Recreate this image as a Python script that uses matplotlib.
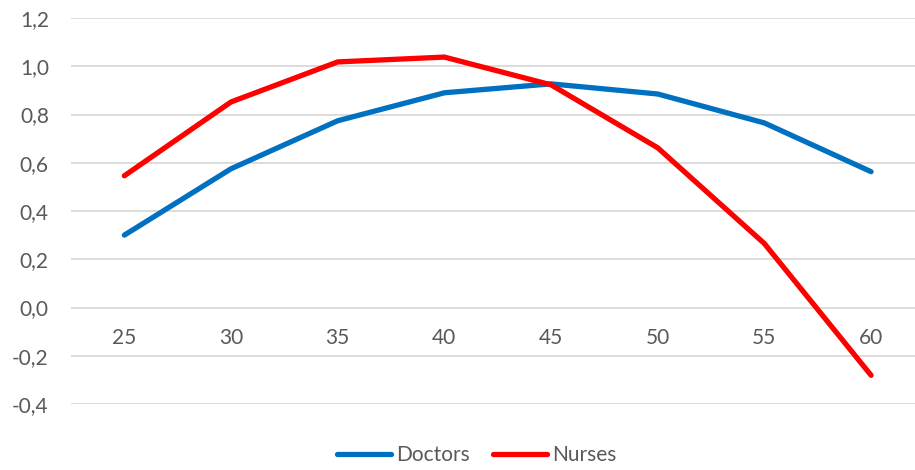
import matplotlib
matplotlib.use("Agg")
import matplotlib.pyplot as plt

ages = ["25", "30", "35", "40", "45", "50", "55", "60"]
doctors = [0.30, 0.575, 0.774, 0.89, 0.927, 0.885, 0.765, 0.563]
nurses = [0.546, 0.852, 1.018, 1.038, 0.923, 0.662, 0.265, -0.281]
yticks = [-0.4, -0.2, 0.0, 0.2, 0.4, 0.6, 0.8, 1.0, 1.2]

plt.rcParams['font.family'] = ['Lato', 'DejaVu Sans']
txt = '#595959'
grid = '#D9D9D9'
fs = 15

fig = plt.figure(figsize=(9.15, 4.7), dpi=100)
ax = fig.add_axes([71/915, 1-404/470, (924.4-71)/915, (404-18)/470])
x = list(range(len(ages)))
ax.plot(x, doctors, color='#0070C0', lw=3.8, solid_capstyle='round', label='Doctors', zorder=3)
ax.plot(x, nurses, color='#FF0000', lw=3.8, solid_capstyle='round', label='Nurses', zorder=3)

ax.set_xlim(-0.5, len(ages) - 0.5)
ax.set_ylim(-0.4, 1.2)
ax.set_yticks(yticks)
ax.set_yticklabels([f"{v:.1f}".replace('.', ',') for v in yticks], color=txt, fontsize=fs)
ax.tick_params(axis='y', length=0, pad=16)
ax.set_xticks([])
for s in ax.spines.values():
    s.set_visible(False)
ax.grid(axis='y', color=grid, lw=1.3)
ax.set_axisbelow(True)

for i, lab in enumerate(ages):
    ax.annotate(lab, xy=(i, 0), xytext=(0, -31), textcoords='offset pixels',
                ha='center', va='center', color=txt, fontsize=fs)

leg = fig.legend(loc='center', bbox_to_anchor=(477/915, 1-455/470), ncol=2, frameon=False,
                 fontsize=fs, handlelength=2.6, handletextpad=0.25, columnspacing=1.1,
                 labelcolor=txt)
fig.savefig('out.png', dpi=100)
